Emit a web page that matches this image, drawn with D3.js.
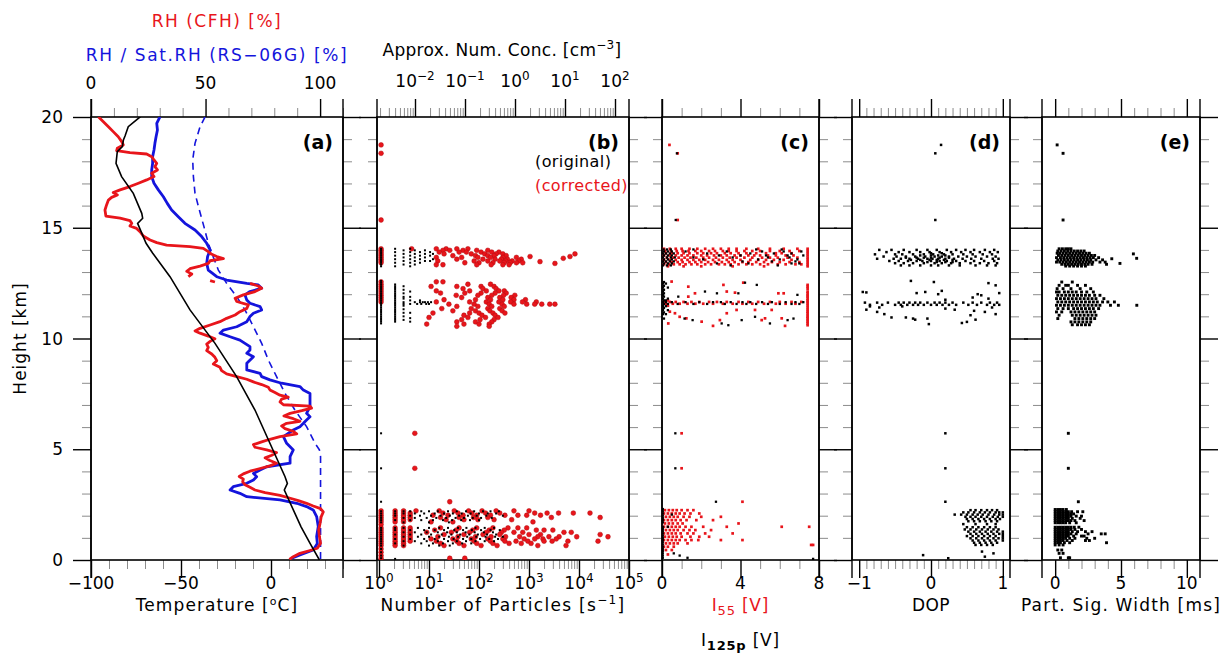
<!DOCTYPE html>
<html><head><meta charset="utf-8">
<script src="https://cdn.jsdelivr.net/npm/d3@7"></script>
<style>
body{margin:0;background:#fff;}
svg text{font-family:"DejaVu Sans",sans-serif;font-size:17px;fill:#000;}
</style></head><body>
<svg id="chart" width="1226" height="669"></svg>
<script>
// ---------------- tick values ----------------
const heightMajor=[0,5,10,15,20];
const tempMajor=[-100,-50,0];
const rhMajor=[0,50,100];
const countExp=[0,1,2,3,4,5];
const concExp=[-2,-1,0,1,2];
const i55Major=[0,4,8];
const dopMajor=[-1,0,1];
const widthMajor=[0,5,10];

// ---------------- panel (a) profiles: [height km, value] ----------------
const temperature=[[20.02,-72.5],[19.56,-79.3],[19.14,-81.1],[18.96,-82.0],[18.66,-82.6],[18.44,-85.4],[17.91,-86.1],[17.31,-83.0],[16.55,-76.5],[15.65,-71.8],[15.43,-71.3],[15.20,-74.1],[14.30,-69.4],[13.85,-65.7],[12.79,-56.1],[11.29,-45.0],[9.78,-31.1],[8.28,-19.1],[6.77,-8.9],[5.27,-0.6],[3.76,7.8],[3.46,9.1],[3.16,7.4],[2.26,12.4],[1.50,16.7],[0.75,21.7],[0.00,26.9]];
const rhCFHUpper=[[20.01,3.2],[19.79,5.4],[19.56,7.6],[19.34,9.7],[19.11,11.9],[18.89,13.4],[18.74,14.1],[18.59,11.5],[18.48,11.2],[18.39,17.0],[18.33,24.3],[18.21,26.5],[18.06,27.5],[17.91,28.7],[17.76,27.9],[17.61,29.0],[17.46,26.5],[17.31,27.5],[17.16,24.3],[17.01,20.7],[16.86,17.0],[16.71,12.7],[16.59,9.7],[16.48,11.5],[16.37,9.0],[16.25,7.6],[16.03,6.8],[15.80,6.1],[15.53,6.5],[15.43,12.7],[15.32,17.0],[15.20,17.8],[15.08,17.0],[14.97,19.9],[14.82,21.4],[14.63,22.8],[14.45,25.8],[14.33,28.7],[14.22,33.0],[14.15,43.2],[14.07,49.0],[13.92,51.2],[13.80,52.7],[13.70,54.9],[13.61,57.8],[13.51,52.0],[13.39,51.2],[13.27,47.6],[13.15,43.2],[13.03,41.8],[12.91,44.0],[12.79,42.5]];
const rhCFHMiddle=[[12.61,52.0],[12.55,54.1]];
const rhCFHLower=[[12.49,69.4],[12.37,73.0],[12.27,74.5],[12.12,71.6],[11.97,66.5],[11.82,62.9],[11.67,63.6],[11.52,68.7],[11.36,68.0],[11.21,65.0],[11.06,62.9],[10.91,59.2],[10.76,56.3],[10.61,52.0],[10.46,47.6],[10.34,45.4],[10.24,47.6],[10.11,51.2],[9.99,54.1],[9.87,52.0],[9.75,50.5],[9.60,51.2],[9.45,50.5],[9.30,52.7],[9.15,54.1],[9.00,54.9],[8.85,53.4],[8.70,56.3],[8.55,57.0],[8.40,59.2],[8.28,63.6],[8.16,68.0],[8.04,70.9],[7.92,74.5],[7.80,77.4],[7.68,78.1],[7.56,80.3],[7.44,82.5],[7.35,86.1],[7.26,83.2],[7.14,82.5],[7.01,84.0],[6.95,95.6],[6.86,96.3],[6.74,92.0],[6.62,86.9],[6.50,84.2],[6.38,88.3],[6.26,91.2],[6.17,85.4],[6.05,83.2],[5.93,84.7],[5.81,88.3],[5.69,89.8],[5.57,82.5],[5.45,78.1],[5.33,74.5],[5.21,70.9],[5.09,71.6],[4.97,76.7],[4.85,81.0],[4.73,78.9],[4.61,76.0],[4.49,78.1],[4.37,81.0],[4.25,78.1],[4.13,73.8],[4.01,69.4],[3.89,66.5],[3.77,64.7],[3.65,66.5],[3.53,66.2],[3.40,67.2],[3.28,69.4],[3.16,71.6],[3.04,76.0],[2.92,82.5],[2.80,86.6],[2.68,90.5],[2.56,94.1],[2.44,97.0],[2.32,100.2],[2.17,101.4],[1.96,100.5],[1.66,100.0],[1.36,99.4],[1.06,99.7],[0.76,100.2],[0.53,98.8],[0.43,95.6],[0.30,91.2],[0.15,88.3],[0.03,86.6]];
const rhRS=[[20.01,30.1],[19.71,28.7],[19.41,29.0],[19.11,28.4],[18.81,27.9],[18.51,27.5],[18.21,26.9],[17.91,26.9],[17.61,26.5],[17.31,26.5],[17.01,27.5],[16.71,29.4],[16.40,31.6],[16.10,33.3],[15.80,35.2],[15.50,38.1],[15.20,41.0],[14.90,45.4],[14.60,48.3],[14.30,50.5],[14.00,52.0],[13.70,50.9],[13.39,50.5],[13.09,51.2],[12.79,54.9],[12.64,59.2],[12.49,68.0],[12.42,73.0],[12.27,74.5],[12.12,69.4],[11.97,67.2],[11.74,68.0],[11.59,69.4],[11.44,73.8],[11.29,74.5],[11.14,70.9],[10.99,69.4],[10.76,68.0],[10.53,63.6],[10.38,57.8],[10.24,56.3],[10.08,60.7],[9.93,65.0],[9.78,67.2],[9.63,69.4],[9.48,69.4],[9.33,68.0],[9.18,70.9],[8.88,68.0],[8.58,68.0],[8.43,73.8],[8.28,74.5],[8.13,78.1],[7.98,83.2],[7.83,91.2],[7.67,92.7],[7.52,95.6],[7.22,95.6],[6.92,95.6],[6.62,94.1],[6.47,95.6],[6.32,94.1],[6.17,92.7],[6.02,91.2],[5.87,88.3],[5.57,84.0],[5.27,85.4],[4.97,88.3],[4.67,86.9],[4.37,86.9],[4.21,76.7],[4.06,73.8],[3.91,70.9],[3.76,72.3],[3.61,70.9],[3.46,68.0],[3.31,62.1],[3.16,60.7],[3.01,65.0],[2.86,68.0],[2.71,82.5],[2.56,89.8],[2.41,94.1],[2.26,97.0],[1.96,98.5],[1.51,99.2],[1.06,98.5],[0.75,98.8],[0.45,97.0],[0.23,91.2],[0.08,87.6]];
const satRH=[[20.01,49.8],[19.56,47.6],[18.81,45.4],[18.06,44.4],[17.31,44.7],[16.55,45.4],[15.80,47.3],[15.05,49.3],[14.30,51.2],[13.85,52.7],[13.09,55.6],[12.49,59.2],[11.89,63.6],[11.29,67.2],[10.53,70.9],[9.78,74.5],[9.03,77.4],[8.28,81.0],[7.52,84.7],[6.77,89.0],[6.02,94.1],[5.27,97.8],[4.97,99.7],[4.67,100.2],[0.00,100.2]];

// ---------------- panel (b): [height km, [particles per s]] ----------------
const bOriginal=[
 [14.05,[1.1,2.1,4.2]],[13.98,[1.1,3.1,5.2,8.3]],[13.90,[1.1,2.1,4.2,6.6,10.5]],[13.82,[1.1,3.1,5.2,8.3,12]],[13.74,[1.1,2.1,4.2,6.6,10.5]],[13.66,[1.1,3.1,5.2,8.3]],[13.58,[1.1,2.1,4.2,6.6,12]],[13.50,[1.1,3.1,5.2,8.3,10.5]],[13.42,[1.1,2.1,4.2,6.6]],[13.34,[1.1,3.1,5.2]],[13.26,[1.1,2.1,4.2]],
 [12.60,[1.1]],[12.52,[1.1]],[12.44,[1.1,2.1]],[12.36,[1.1,2.1,3.1]],[12.28,[1.1,2.1]],[12.20,[1.1,2.1,3.1]],[12.12,[1.1,2.1,4.2]],[12.04,[1.1,2.1,3.1]],[11.96,[1.1,2.1]],[11.88,[1.1,2.1,3.1,4.2]],[11.80,[1.1,2.1,3.1]],[11.72,[1.1,2.1,4.2,6.6]],[11.64,[1.1,2.1,3.1,5.2,6.6,7.5,8.3,9.5,11]],[11.56,[1.1,2.1,3.1,4.2,5.8,7,8.8,10]],[11.48,[1.1,2.1,3.1]],[11.40,[1.1,2.1]],[11.32,[1.1,2.1,3.1]],[11.24,[1.1,2.1]],[11.16,[1.1,2.1,3.1,4.2]],[11.08,[1.1,2.1]],[11.00,[1.1,2.1,3.1]],[10.92,[1.1,2.1,4.2]],[10.84,[1.1,2.1,3.1]],[10.76,[1.1,2.1,4.2]],[10.68,[1.1]],
 [5.72,[1.1]],[4.14,[1.1]],[2.63,[1.1]],
 [2.20,[1.1,2.1,3.1,4.2,7,10,15,24,36,55,80,120,170,250]],[2.10,[1.1,2.1,3.1,5.2,8,13,20,30,45,68,100,150,220]],[2.00,[1.1,2.1,4.2,6.6,11,17,26,40,60,90,140,300]],[1.90,[1.1,3.1,5.2,9,14,22,34,50,75,110,180]],[1.80,[1.1,2.1,4.2,7,12,19,29,44,66,100]],[1.70,[1.1,3.1,10,25]],
 [1.45,[1.1,2.1,3.1,6,10,16,24,38,56,85,130,200]],[1.35,[1.1,2.1,4.2,8,13,20,32,48,72,110,170,260]],[1.25,[1.1,3.1,5.2,9,15,23,36,54,82,125,190]],[1.15,[1.1,2.1,4.2,7,11,18,28,42,64,95,145,220]],[1.05,[1.1,3.1,6,10,16,25,38,58,88,135,210,300]],[0.95,[1.1,2.1,4.2,8,13,20,31,48,70,105,160,240]],[0.85,[1.1,3.1,5.2,9,15,24,36,55,85,130,200]],[0.75,[1.1,2.1,7,12,19,30,46,70]],[0.65,[1.1,3.1,10,16,26]],[0.50,[1.1]],[0.35,[1.1]],[0.20,[1.1]],[0.08,[1.1]],[0.05,[2.1]]
];
const bCorrected=[
 [18.74,[1.1]],[18.36,[1.1]],[15.35,[1.1]],
 [14.05,[1.1,4.5,14,22,36,60]],[13.98,[1.1,19,26,48,90,150]],[13.90,[1.1,16,40,56,110,180,250]],[13.82,[1.1,20,70,130,220,300,8300]],[13.74,[1.1,30,85,150,200,350]],[13.70,[1050,6600]],[13.66,[1.1,14,45,95,170,300,560]],[13.62,[4850]],[13.58,[1.1,36,120,210,280,370,700]],[13.50,[1.1,15,80,150,260,340,460,620]],[13.47,[1660]],[13.42,[1.1,52,100,190,320,420,560,750]],[13.39,[3300]],[13.33,[14,19,90,175,300,400]],
 [12.56,[1.1,14,19]],[12.45,[1.1,60,170]],[12.35,[1.1,11,36,110,200]],[12.25,[1.1,48,120,220]],[12.15,[1.1,14,65,140,250,320]],[12.05,[1.1,17,52,110,210,350]],[11.95,[1.1,35,95,180,310,520]],[11.85,[1.1,45,150,260,440]],[11.75,[1.1,20,85,170,300,500,850]],[11.65,[1.1,14,65,140,250,430,740,1400]],[11.55,[25,80,160,290,500,900,1300,1800,2600,3300]],[11.45,[36,95,180,320]],[11.35,[18,70,150,260]],[11.25,[30,85,165,290]],[11.15,[12,65,100,190,330]],[11.05,[50,115,210]],[10.95,[10,60,135,240]],[10.85,[45,105,200]],[10.75,[36,85,180]],[10.65,[9,50,100,160]],[10.55,[36,160]],
 [5.72,[5.2]],[4.14,[5.2]],[2.63,[26]],
 [2.22,[1.1,2.1,3.1,5.5,16,32,62,115,220,500,1000]],[2.12,[1.1,2.1,3.1,4.2,19,38,72,135,260,1300,2300,3900,7700,16600]],[2.02,[1.1,2.1,3.1,4.2,12,24,48,90,170,330,600,900,1700]],[1.92,[1.1,2.1,3.1,4.2,17,40,78,150,2800,26500]],[1.82,[1.1,2.1,3.1,4.2,22,50,95,200,450]],[1.72,[1.1,2.1,3.1,11,30,1200]],[1.60,[1.1]],
 [1.45,[1.1,2.1,3.1,4.2,17,40,90,190,380,600,900]],[1.35,[1.1,2.1,3.1,4.2,13,35,75,160,320,1400,2000,3000]],[1.25,[1.1,2.1,3.1,4.2,9,28,65,140,280,500,750,5000,7000]],[1.15,[1.1,2.1,3.1,4.2,20,50,120,260,1000,1700,26500]],[1.05,[1.1,2.1,3.1,4.2,15,38,85,175,340,650,1500,2500,4000,9000,38000]],[0.95,[1.1,2.1,3.1,4.2,11,30,70,150,300,800,1300,1900,3500]],[0.85,[1.1,2.1,3.1,4.2,14,36,80,170,330,550,950,2000,2900,6000,24000]],[0.75,[1.1,2.1,3.1,17,40,90,190,400,700,1100]],[0.65,[1.1,2.1,3.1,20,50,110,230,1500,5500]],[0.50,[1.1]],[0.35,[1.1]],[0.20,[1.1]],[0.08,[1.1,26,52]]
];

// ---------------- panel (c): [height km, [signal V]] ----------------
const cI55=[
 [18.74,[0.38]],[18.36,[0.8]],[15.35,[0.8]],[5.72,[1.0]],[4.14,[1.0]],[2.63,[4.1]],
 [14.05,[0.1,0.4,0.7,1.0,1.4,1.8,2.2,2.6,3.0,3.4,3.8,4.3,4.9,5.5,6.2,6.9,7.42]],[13.95,[0.15,0.45,0.75,1.05,1.35,1.7,2.0,2.4,2.7,3.1,3.4,3.8,4.2,4.6,5.0,5.5,6.0,6.5,7.0,7.42]],[13.85,[0.2,0.5,0.8,1.1,1.4,1.8,2.1,2.5,2.8,3.2,3.5,3.9,4.3,4.8,5.3,5.8,6.1,6.6,7.42]],[13.75,[0.1,0.4,0.7,1.0,1.3,1.6,2.0,2.3,2.65,3.0,3.3,3.7,4.0,4.4,4.7,5.0,5.4,5.8,6.3,6.7,7.42]],[13.65,[0.25,0.55,0.85,1.15,1.45,1.75,2.1,2.4,2.75,3.1,3.45,3.8,4.2,4.6,5.1,5.5,5.9,6.4,6.9,7.42]],[13.55,[0.1,0.4,0.7,1.0,1.3,1.6,1.9,2.2,2.6,2.9,3.3,3.6,4.0,4.5,4.9,5.3,5.7,6.2,6.6,7.42]],[13.45,[0.2,0.5,0.8,1.05,1.4,1.7,2.0,2.35,2.7,3.05,3.4,3.7,4.1,4.4,4.8,5.2,5.6,6.0,6.5,7.0,7.42]],[13.35,[0.1,0.35,0.6,0.9,1.2,1.5,1.8,2.2,2.5,2.9,3.2,3.5,3.9,4.3,4.6,5.0,5.4,5.9,6.3,6.8,7.1,7.42]],[13.26,[0.3,1.1,2.0,3.6,5.2,7.42]],
 [12.57,[0.49]],[12.52,[4.14]],[12.42,[3.13,7.42]],[12.34,[1.34,7.42]],[12.25,[7.42]],[12.12,[3.3,7.42]],[12.07,[3.72]],[12.04,[1.68,5.93,6.2,7.42]],[11.95,[7.42]],[11.89,[1.34,7.42]],[11.80,[7.42]],[11.72,[0.3,7.42]],
 [11.65,[0.1,0.4,0.7,1.1,1.5,1.9,2.4,2.8,3.3,3.9,4.4,4.9,5.5,6.0,6.6,7.1,7.42]],[11.57,[0.2,0.55,0.9,1.3,1.7,2.1,2.6,3.1,3.6,4.1,4.6,5.2,5.8,6.3,6.8,7.42]],
 [11.48,[0.3,7.42]],[11.38,[7.42]],[11.29,[3.8,4.74,5.59,7.42]],[11.21,[0.4,7.42]],[11.14,[0.66,3.3,7.42]],[11.05,[7.42]],[10.98,[0.9,7.42]],[10.91,[1.24,5.25,6.1,7.42]],[10.83,[2.95,5.08,7.42]],[10.76,[2.02,7.42]],[10.68,[0.32,7.42]],[10.60,[7.42]],[10.57,[2.6,6.27]],
 [2.25,[0.15,0.35,0.55,0.75,1.0,1.3,1.6]],[2.10,[0.1,0.3,0.5,0.7,0.9,1.15,1.45,1.9]],[1.95,[0.2,0.4,0.6,0.8,1.1,1.4,2.0,3.0]],[1.80,[0.1,0.3,0.5,0.7,0.95,1.25,1.75,2.6]],[1.65,[0.15,0.35,0.55,0.8,1.05,3.9]],[1.50,[0.1,0.3,0.5,0.7,0.9,1.2,1.5,2.1,3.3,6.1,7.5]],[1.35,[0.2,0.4,0.6,0.8,1.1,1.4,1.7,2.5]],[1.20,[0.1,0.3,0.5,0.7,0.95,1.3,1.6,2.2,3.6]],[1.05,[0.15,0.35,0.55,0.75,1.0,1.45,1.9,2.4]],[0.90,[0.1,0.3,0.5,0.7,0.9,1.2,1.5,1.85,3.0,4.1]],[0.75,[0.2,0.4,0.6,0.8,1.3]],[0.68,[7.6,7.7]],[0.60,[0.1,0.3,0.6]],[0.45,[0.2,0.5]],[0.25,[0.3]]
];
const cI125p=[
 [18.36,[0.76]],[15.35,[0.7]],[5.72,[0.68]],[4.14,[0.68]],[2.63,[2.75]],
 [14.02,[0.08,0.25,0.45,1.6,4.8,6.1]],[13.93,[0.1,0.3,0.5,1.2,3.3,5.1,6.2,7.1]],[13.84,[0.05,0.2,0.4,0.6,2.3,4.5,5.7,6.6]],[13.75,[0.1,0.3,0.5,2.9,4.0,5.3,6.4,7.2]],[13.66,[0.05,0.25,0.45,0.65,1.6,3.6,5.4,6.5]],[13.57,[0.1,0.3,0.5,2.1,4.9,6.0,6.9]],[13.48,[0.05,0.2,0.4,0.6,4.1,5.6,6.8]],[13.39,[0.1,0.3,0.5,2.8,4.4,6.6,7.0]],[13.30,[0.05,0.25,0.45,3.5,5.9]],
 [12.55,[0.1]],[12.52,[4.23]],[12.48,[0.05,0.2]],[12.42,[4.83]],[12.38,[0.1]],[12.30,[0.05,0.3]],[12.20,[0.1]],[12.12,[0.05,2.19]],[12.04,[0.1,2.8,3.89]],[11.97,[0.05,6.9]],[11.89,[0.1,0.83]],[11.80,[0.05,0.3]],[11.72,[0.1,0.2]],
 [11.64,[0.05,0.2,0.5,1.2,1.9,2.6,3.0,3.5,4.1,4.5,5.1,5.6,6.3,6.8,7.2]],[11.56,[0.1,0.3,0.8,1.6,2.3,3.2,3.8,4.3,4.8,5.4,6.0,6.6,7.0]],
 [11.46,[0.05,0.2]],[11.38,[0.1]],[11.28,[0.05,0.3]],[11.18,[0.1]],[11.10,[0.05,0.2]],[10.98,[4.74]],[10.90,[0.1,1.15,6.7]],[10.83,[1.56,4.06,6.4]],[10.68,[3.04,5.5]],[10.60,[3.38]],
 [2.30,[0.04]],[2.20,[0.04]],[2.10,[0.04]],[2.05,[0.5]],[2.00,[0.04]],[1.90,[0.04]],[1.80,[0.04]],[1.70,[0.04]],[1.50,[0.04,0.3]],[1.40,[0.04]],[1.30,[0.04]],[1.20,[0.04]],[1.10,[0.04]],[1.00,[0.04]],[0.90,[0.04]],[0.80,[0.04]],[0.70,[0.04]],[0.60,[0.04]],[0.50,[0.04]],[0.40,[0.04]],[0.30,[0.04,0.6]],[0.20,[0.04,0.9]],[0.10,[0.04,1.3]],[0.05,[7.7]]
];

// ---------------- panel (d): [height km, [DOP]] ----------------
const dDOP=[
 [18.74,[0.14]],[18.36,[0.06]],[15.35,[0.06]],[5.72,[0.2]],[4.14,[0.2]],[2.63,[0.2]],[0.38,[0.71]],[0.30,[0.87]],[0.22,[-0.11]],[0.15,[0.75]],[0.08,[0.24]],
 [14.00,[-0.72,-0.55,-0.38,-0.2,-0.05,0.08,0.22,0.35,0.48,0.6,0.75,0.88]],[13.90,[-0.62,-0.45,-0.3,-0.15,-0.02,0.12,0.28,0.42,0.55,0.68,0.82,0.93]],[13.85,[0.0,0.15]],[13.80,[-0.78,-0.5,-0.4,-0.25,-0.1,0.03,0.18,0.3,0.45,0.58,0.72,0.85]],[13.75,[-0.15,0.0,0.1,0.2]],[13.70,[-0.66,-0.48,-0.35,-0.22,-0.08,0.05,0.15,0.25,0.38,0.5,0.62,0.78,0.9]],[13.65,[-0.35,-0.2,-0.1,0.0,0.12,0.25]],[13.60,[-0.75,-0.52,-0.42,-0.3,-0.18,-0.05,0.02,0.1,0.2,0.32,0.44,0.56,0.7,0.86,0.94]],[13.55,[-0.28,-0.15,-0.02,0.08,0.18,0.3]],[13.50,[-0.58,-0.45,-0.32,-0.2,-0.12,0.0,0.12,0.22,0.35,0.48,0.6,0.74,0.88]],[13.45,[-0.05,0.08,0.2,0.3]],[13.40,[-0.5,-0.38,-0.25,-0.1,0.05,0.15,0.28,0.4,0.55,0.68,0.8,0.92]],[13.30,[-0.42,-0.3,-0.15,0.0,0.1,0.25,0.4,0.62,0.78,0.9]],
 [12.60,[-0.28]],[12.55,[0.04]],[12.50,[0.8]],[12.40,[0.9]],[12.15,[0.15]],[12.10,[-0.95,-0.08]],[12.08,[-0.9]],[12.05,[-0.2,0.95]],[12.00,[0.1,0.65]],[11.95,[0.7]],[11.85,[0.58]],[11.80,[0.8]],[11.75,[0.2]],
 [11.62,[-0.92,-0.75,-0.6,-0.45,-0.38,-0.3,-0.22,-0.15,-0.05,0.05,0.12,0.2,0.3,0.45,0.58,0.7,0.82,0.92]],[11.52,[-0.85,-0.68,-0.5,-0.42,-0.33,-0.25,-0.18,-0.1,0.0,0.08,0.16,0.25,0.35,0.52,0.64,0.78,0.88,0.95]],
 [11.45,[-0.85,-0.4]],[11.40,[-0.72,0.85]],[11.35,[0.2]],[11.30,[-0.9,0.33]],[11.25,[0.6]],[11.20,[-0.75,0.75]],[11.10,[-0.65,0.9]],[11.05,[0.55]],[10.95,[-0.55,-0.35]],[10.90,[-0.25,-0.05]],[10.85,[-0.22,0.62]],[10.75,[0.5]],[10.70,[0.43]],[10.65,[-0.03]],
 [2.25,[0.55,0.62,0.7,0.78,0.85,0.92]],[2.15,[0.45,0.52,0.6,0.68,0.75,0.82,0.9,0.95,1.0]],[2.05,[0.33,0.42,0.5,0.58,0.65,0.72,0.8,0.88,0.95,1.0]],[1.95,[0.48,0.55,0.62,0.7,0.78,0.86,0.93,1.0]],[1.85,[0.5,0.58,0.66,0.74,0.82,0.9,0.96]],[1.75,[0.52,0.6,0.68,0.76,0.84,0.92]],[1.62,[0.45,0.62,0.78,0.9]],[1.48,[0.5,0.58,0.66,0.74,0.82,0.9]],[1.38,[0.47,0.55,0.63,0.71,0.79,0.87,0.94]],[1.28,[0.52,0.6,0.68,0.76,0.84,0.92,1.0]],[1.18,[0.55,0.63,0.71,0.79,0.87,0.95,1.0]],[1.08,[0.5,0.58,0.66,0.74,0.82,0.9,1.0]],[0.98,[0.55,0.63,0.71,0.79,0.87,0.94,1.0]],[0.88,[0.58,0.66,0.74,0.82,0.9,1.0]],[0.78,[0.6,0.68,0.76,0.84,0.92]],[0.68,[0.62,0.7,0.78,0.86]]
];

// ---------------- panel (e): [height km, [signal width ms]] ----------------
const eWidth=[
 [18.74,[0.15]],[18.36,[0.6]],[15.35,[0.6]],[5.72,[1.0]],[4.14,[1.0]],[2.63,[1.76]],
 [14.05,[0.3,0.55,0.8,1.0,1.2]],[13.95,[0.2,0.45,0.7,0.95,1.2,1.45,1.7,1.95,2.2]],[13.85,[0.15,0.35,0.6,0.85,1.1,1.35,1.6,1.85,2.1,2.35,2.6]],[13.82,[5.94]],[13.75,[0.25,0.5,0.75,1.0,1.25,1.5,1.75,2.0,2.25,2.5,2.75,3.0]],[13.65,[0.1,0.4,0.65,0.9,1.15,1.4,1.65,1.9,2.15,2.4,2.65,2.9,3.3]],[13.62,[6.19]],[13.60,[4.3]],[13.55,[0.2,0.45,0.7,0.95,1.2,1.45,1.7,1.95,2.2,2.45,2.7,3.1,3.6]],[13.45,[0.1,0.35,0.6,0.85,1.1,1.35,1.6,1.85,2.1,2.35,2.6,2.85,3.4,3.8]],[13.39,[4.92]],[13.35,[0.5,0.75,1.0,1.25,1.5,1.75,2.0,2.25,2.5,2.8,3.9]],[13.27,[0.8,1.1,1.4,1.7,2.0,2.3]],
 [12.55,[0.5,1.3]],[12.40,[0.3,0.8,1.0,1.7,2.3]],[12.25,[0.15,0.6,1.2,1.9,2.7]],[12.10,[0.1,0.3,0.7,1.0,1.3,1.6,2.0,2.4,2.9]],[11.95,[0.2,0.5,0.8,1.1,1.4,1.7,2.0,2.3,2.6,3.0,3.4]],[11.80,[0.1,0.4,0.7,1.0,1.3,1.6,1.9,2.2,2.5,2.8,3.1,3.7]],[11.65,[0.2,0.5,0.8,1.1,1.4,1.7,2.0,2.3,2.6,2.9,3.2,3.6,4.0,4.5]],[11.50,[0.1,0.4,0.7,1.0,1.3,1.6,1.9,2.2,2.5,2.8,3.1,3.4,4.2,4.8,6.2]],[11.35,[0.2,0.6,1.0,1.4,1.7,2.0,2.3,2.6,2.9,3.3]],[11.20,[0.1,0.5,1.2,1.5,1.8,2.1,2.4,2.7,3.0]],[11.05,[0.3,1.3,1.6,1.9,2.2,2.5,2.8,3.1]],[10.90,[0.2,1.5,1.8,2.1,2.4,2.7,3.0]],[10.75,[1.2,1.5,1.8,2.1,2.4,2.7]],[10.62,[1.3,1.7,2.0,2.3,2.6]],
 [2.28,[0.0,0.2,0.4,0.6,0.85]],[2.18,[0.0,0.2,0.4,0.6,0.8,1.0,1.25,1.7,2.1]],[2.08,[0.0,0.2,0.4,0.6,0.8,1.0,1.2,1.4]],[1.98,[0.0,0.2,0.4,0.6,0.8,1.0,1.2,1.6,2.0]],[1.88,[0.0,0.2,0.4,0.6,0.8,1.0,1.3,1.9]],[1.78,[0.0,0.2,0.4,0.6,0.8,1.0,1.2,1.5,2.2]],[1.68,[0.0,0.2,0.4,0.6,0.8,1.1,1.6]],
 [1.48,[0.0,0.2,0.4,0.6,0.8,1.0,1.2,1.45,1.8]],[1.38,[0.0,0.2,0.4,0.6,0.8,1.0,1.2,1.5,2.0]],[1.28,[0.0,0.2,0.4,0.6,0.8,1.0,1.3,1.7,2.3,2.8]],[1.18,[0.0,0.2,0.4,0.6,0.8,1.0,1.2,1.6,2.5,3.5,3.8]],[1.08,[0.0,0.2,0.4,0.6,0.8,1.0,1.4,2.0,2.2]],[0.98,[0.0,0.2,0.4,0.6,0.8,1.1,1.5,2.4,3.0]],[0.88,[0.0,0.2,0.4,0.6,0.9,1.3,2.3,2.6]],[0.78,[0.0,0.2,0.4,0.7,1.1,3.9]],[0.68,[0.0,0.3,0.6]],[0.45,[0.2,0.5]],[0.30,[0.3,0.6]],[0.10,[0.4,1.0,1.1]]
];

// ================= drawing =================
const svg=d3.select("#chart");
const TOP=117,BOT=560,MAJ=18,MIN=9;
const RED="#e8151b",BLUE="#1414dc";
const y=d3.scaleLinear().domain([0,20]).range([BOT,TOP]);
const P={a:[91,343],b:[377,629],c:[662,819],d:[852,1010],e:[1042,1200]};
const xa=d3.scaleLinear().domain([-100,40]).range(P.a);
const xaTop=d3.scaleLinear().domain([0,110]).range(P.a);
const xb=d3.scaleLog().domain([Math.pow(10,-0.04),1e5]).range(P.b);
const xbTop=d3.scaleLog().domain([Math.pow(10,-2.76),Math.pow(10,2.28)]).range(P.b);
const xc=d3.scaleLinear().domain([0,8]).range(P.c);
const xd=d3.scaleLinear().domain([-1.1,1.1]).range(P.d);
const xe=d3.scaleLinear().domain([-1,11]).range(P.e);

const flat=rows=>rows.flatMap(([h,vs])=>vs.map(v=>[h,v]));
const near=(a,b)=>Math.abs(a-b)<1e-9;

function ticks(scale,orient,pos,majors,minors){
  const mk={bottom:d3.axisBottom,top:d3.axisTop,left:d3.axisLeft,right:d3.axisRight}[orient];
  const tr=(orient==="bottom"||orient==="top")?`translate(0,${pos})`:`translate(${pos},0)`;
  const mins=minors.filter(m=>!majors.some(M=>near(M,m)));
  const g1=svg.append("g").attr("transform",tr).call(mk(scale).tickValues(mins).tickSize(MIN).tickSizeOuter(0).tickFormat(""));
  g1.select(".domain").remove();
  g1.selectAll(".tick line").attr("stroke","#8c8c8c").attr("stroke-width",1);
  const g2=svg.append("g").attr("transform",tr).call(mk(scale).tickValues(majors).tickSize(MAJ).tickSizeOuter(0).tickFormat(""));
  g2.select(".domain").remove();
  g2.selectAll(".tick line").attr("stroke","#000").attr("stroke-width",1.4);
}
const hMinor=d3.range(0,21);
const logMinor=(k0,k1)=>{const r=[];for(let k=k0;k<=k1;k++)for(let m=2;m<=9;m++)r.push(m*Math.pow(10,k));return r;};

Object.values(P).forEach(([x0,x1])=>{
  ticks(y,"left",x0,heightMajor,hMinor);
  ticks(y,"right",x1,heightMajor,hMinor);
});
ticks(xa,"bottom",BOT,tempMajor,d3.range(-100,41,10));
ticks(xaTop,"top",TOP,rhMajor,d3.range(0,111,10));
ticks(xb,"bottom",BOT,countExp.map(k=>Math.pow(10,k)),logMinor(0,4).filter(v=>v<=1e5));
ticks(xbTop,"top",TOP,concExp.map(k=>Math.pow(10,k)),logMinor(-3,2).filter(v=>v>=xbTop.domain()[0]&&v<=xbTop.domain()[1]));
ticks(xc,"bottom",BOT,i55Major,d3.range(0,9,1));
ticks(xc,"top",TOP,i55Major,d3.range(0,9,1));
ticks(xd,"bottom",BOT,dopMajor,d3.range(-11,12).map(i=>i/10).filter(v=>v>-1.1&&v<1.1));
ticks(xd,"top",TOP,dopMajor,d3.range(-11,12).map(i=>i/10).filter(v=>v>-1.1&&v<1.1));
ticks(xe,"bottom",BOT,widthMajor,d3.range(0,11,1));
ticks(xe,"top",TOP,widthMajor,d3.range(0,11,1));

Object.values(P).forEach(([x0,x1])=>{
  svg.append("rect").attr("x",x0).attr("y",TOP).attr("width",x1-x0).attr("height",BOT-TOP)
    .attr("fill","none").attr("stroke","#000").attr("stroke-width",1.6);
  [x0,x1].forEach(x=>svg.append("line").attr("x1",x).attr("x2",x).attr("y1",TOP-MAJ).attr("y2",BOT+MAJ)
    .attr("stroke","#000").attr("stroke-width",1.4));
});

const defs=svg.append("defs");
Object.entries(P).forEach(([k,[x0,x1]])=>{
  defs.append("clipPath").attr("id","clip-"+k).append("rect").attr("x",x0).attr("y",TOP).attr("width",x1-x0).attr("height",BOT-TOP);
});
const layer=k=>svg.append("g").attr("clip-path",`url(#clip-${k})`);

// ---- panel a ----
const ga=layer("a");
const lineRH=d3.line().x(d=>xaTop(d[1])).y(d=>y(d[0]));
const lineT=d3.line().x(d=>xa(d[1])).y(d=>y(d[0]));
ga.append("path").attr("d",lineRH(satRH)).attr("fill","none").attr("stroke",BLUE).attr("stroke-width",1.6).attr("stroke-dasharray","7,5");
ga.append("path").attr("d",lineRH(rhRS)).attr("fill","none").attr("stroke",BLUE).attr("stroke-width",2.8).attr("stroke-linejoin","round");
[rhCFHUpper,rhCFHMiddle,rhCFHLower].forEach(s=>ga.append("path").attr("d",lineRH(s)).attr("fill","none").attr("stroke",RED).attr("stroke-width",2.8).attr("stroke-linejoin","round"));
ga.append("path").attr("d",lineT(temperature)).attr("fill","none").attr("stroke","#000").attr("stroke-width",1.6);

function squares(g,pts,sx,size,color){
  g.selectAll(null).data(pts).enter().append("rect")
   .attr("x",d=>sx(d[1])-size/2).attr("y",d=>y(d[0])-size/2)
   .attr("width",size).attr("height",size).attr("fill",color);
}
const gb=layer("b");
gb.selectAll(null).data(flat(bCorrected)).enter().append("circle")
  .attr("cx",d=>xb(d[1])).attr("cy",d=>y(d[0])).attr("r",2.4)
  .attr("fill",RED).attr("stroke","#b30d10").attr("stroke-width",0.5);
squares(gb,flat(bOriginal),xb,2,"#000");
const gc=layer("c");
squares(gc,flat(cI55),xc,2.7,RED);
squares(gc,flat(cI125p),xc,2.3,"#000");
squares(layer("d"),flat(dDOP),xd,2.5,"#000");
squares(layer("e"),flat(eWidth),xe,2.9,"#000");

// ================= text =================
const T=(x,yy,txt,opt={})=>{
  const t=svg.append("text").attr("x",x).attr("y",yy).attr("text-anchor",opt.anchor||"middle").text(txt);
  if(opt.color) t.style("fill",opt.color);
  if(opt.ls) t.style("letter-spacing",opt.ls+"px");
  if(opt.bold) t.style("font-weight","bold");
  if(opt.size) t.style("font-size",opt.size+"px");
  return t;
};
const minus=v=>v<0?"\u2212"+Math.abs(v):String(v);
const LBL=589, TTL=611;
heightMajor.forEach(v=>T(P.a[0]-MAJ-10,y(v)+6,String(v),{anchor:"end"}));
svg.append("text").attr("transform",`translate(26,${(TOP+BOT)/2}) rotate(-90)`).attr("text-anchor","middle").style("letter-spacing","1px").text("Height [km]");
tempMajor.forEach(v=>T(xa(v),LBL,minus(v)));
countExp.forEach(k=>{
  const t=T(xb(Math.pow(10,k)),LBL,"10");
  t.append("tspan").attr("dy",-7).style("font-size","12px").text(k);
});
i55Major.forEach(v=>T(xc(v),LBL,String(v)));
dopMajor.forEach(v=>T(xd(v),LBL,minus(v)));
widthMajor.forEach(v=>T(xe(v),LBL,String(v)));
rhMajor.forEach(v=>T(xaTop(v),89,String(v)));
concExp.forEach(k=>{
  const t=T(xbTop(Math.pow(10,k)),87,"10");
  t.append("tspan").attr("dy",-7).style("font-size","12px").text(minus(k));
});
{
  const t=T((P.a[0]+P.a[1])/2,TTL,"Temperature [",{ls:1.1});
  t.append("tspan").attr("dy",-6).style("font-size","11px").text("o");
  t.append("tspan").attr("dy",6).text("C]");
}
{
  const t=T((P.b[0]+P.b[1])/2,TTL,"Number of Particles [s",{ls:1.3});
  t.append("tspan").attr("dy",-7).style("font-size","12px").text("\u22121");
  t.append("tspan").attr("dy",7).text("]");
}
{
  const t=T((P.c[0]+P.c[1])/2,TTL,"I",{color:RED,ls:0.8});
  t.append("tspan").attr("dy",4).style("font-size","13px").text("55");
  t.append("tspan").attr("dy",-4).text(" [V]");
}
{
  const t=T((P.c[0]+P.c[1])/2,646,"I",{ls:0.8});
  t.append("tspan").attr("dy",4).style("font-size","13px").style("font-weight","bold").text("125p");
  t.append("tspan").attr("dy",-4).text(" [V]");
}
T((P.d[0]+P.d[1])/2,TTL,"DOP",{ls:0.5});
T((P.e[0]+P.e[1])/2,TTL,"Part. Sig. Width [ms]",{ls:1.2});
T(217,27,"RH (CFH) [%]",{color:RED,ls:1.5});
T(217,61,"RH / Sat.RH (RS\u221206G) [%]",{color:BLUE,ls:1.6});
{
  const t=T(502,56,"Approx. Num. Conc. [cm",{ls:0.3});
  t.append("tspan").attr("dy",-7).style("font-size","12px").text("\u22123");
  t.append("tspan").attr("dy",7).text("]");
}
[["a",P.a],["b",P.b],["c",P.c],["d",P.d],["e",P.e]].forEach(([k,[x0,x1]])=>T(x1-10,149,`(${k})`,{anchor:"end",bold:true,size:19}));
T(535,167,"(original)",{anchor:"start",size:16,ls:0.4});
T(535,191,"(corrected)",{anchor:"start",size:16,ls:0.4,color:RED});
</script></body></html>
